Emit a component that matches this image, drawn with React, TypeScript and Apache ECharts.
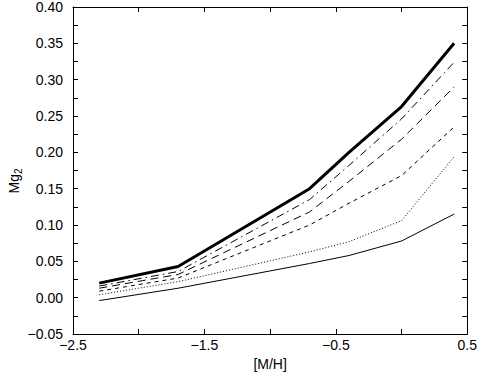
import React, { useEffect, useRef } from "react";
import * as echarts from "echarts";

const metallicity = [-2.3, -1.7, -0.7, -0.4, 0.0, 0.4];
const thickSolid = [0.02, 0.043, 0.15, 0.2, 0.263, 0.35];
const dashDot = [0.016, 0.036, 0.135, 0.182, 0.246, 0.324];
const longDash = [0.013, 0.032, 0.118, 0.16, 0.218, 0.29];
const shortDash = [0.009, 0.027, 0.1, 0.13, 0.168, 0.235];
const dotted = [0.004, 0.022, 0.063, 0.077, 0.106, 0.194];
const thinSolid = [-0.004, 0.013, 0.047, 0.058, 0.078, 0.115];

const xLabels = [-2.5, -1.5, -0.5, 0.5];

const FONT = "'Liberation Sans', Arial, Helvetica, sans-serif";

function pairs(ys: number[]) {
  return metallicity.map((x, i) => [x, ys[i]]);
}

export default function App() {
  const ref = useRef<HTMLDivElement>(null);
  useEffect(() => {
    if (!ref.current) return;
    const chart = echarts.init(ref.current, null, { renderer: "svg" });
    const minus = (s: string) => s.replace("-", "\u2212");
    const axisLine = { show: true, onZero: false, lineStyle: { color: "#000", width: 1 } };
    const tick = { show: true, inside: true, length: 5, lineStyle: { color: "#000", width: 1 } };
    const mk = (name: string, data: number[], width: number, type: any) => ({
      name,
      type: "line",
      data: pairs(data),
      symbol: "none",
      xAxisIndex: 0,
      yAxisIndex: 0,
      lineStyle: { color: "#000", width, type },
    });
    chart.setOption({
      animation: false,
      backgroundColor: "#fff",
      grid: { left: 73, right: 10, top: 5, bottom: 39 },
      xAxis: [
        {
          type: "value",
          min: -2.5,
          max: 0.5,
          interval: 0.5,
          position: "bottom",
          axisLine,
          axisTick: tick,
          splitLine: { show: false },
          axisLabel: {
            color: "#000",
            fontFamily: FONT,
            fontSize: 14,
            margin: 4,
            formatter: (v: number) =>
              xLabels.some((l) => Math.abs(l - v) < 1e-6) ? minus(v.toFixed(1)) : "",
          },
          name: "[M/H]",
          nameLocation: "middle",
          nameGap: 23,
          nameTextStyle: { color: "#000", fontFamily: FONT, fontSize: 14 },
        },
        {
          type: "value",
          min: -2.5,
          max: 0.5,
          interval: 0.5,
          position: "top",
          axisLine,
          axisTick: tick,
          splitLine: { show: false },
          axisLabel: { show: false },
        },
      ],
      yAxis: [
        {
          type: "value",
          min: -0.05,
          max: 0.4,
          interval: 0.025,
          position: "left",
          axisLine,
          axisTick: tick,
          splitLine: { show: false },
          axisLabel: {
            color: "#000",
            fontFamily: FONT,
            fontSize: 14,
            margin: 10,
            formatter: (v: number) =>
              Math.round(v * 1000) % 50 === 0 ? minus(v.toFixed(2)) : "",
          },
        },
        {
          type: "value",
          min: -0.05,
          max: 0.4,
          interval: 0.025,
          position: "right",
          axisLine,
          axisTick: tick,
          splitLine: { show: false },
          axisLabel: { show: false },
        },
      ],
      graphic: [
        {
          type: "group",
          x: 14,
          y: 181,
          rotation: Math.PI / 2,
          children: [
            {
              type: "text",
              x: -12.5,
              y: 0,
              style: {
                text: "Mg",
                align: "left",
                verticalAlign: "middle",
                fill: "#000",
                fontSize: 14,
                fontFamily: FONT,
              },
            },
            {
              type: "text",
              x: 7,
              y: 4,
              style: {
                text: "2",
                align: "left",
                verticalAlign: "middle",
                fill: "#000",
                fontSize: 10,
                fontFamily: FONT,
              },
            },
          ],
        },
      ],
      series: [
        mk("thin", thinSolid, 1, "solid"),
        mk("dotted", dotted, 1, [1, 2]),
        mk("shortDash", shortDash, 1, [4, 4]),
        mk("longDash", longDash, 1, [8, 5]),
        mk("dashDot", dashDot, 1, [8, 4, 1.5, 4]),
        mk("thick", thickSolid, 3, "solid"),
      ],
    });
    return () => chart.dispose();
  }, []);
  return (
    <div
      ref={ref}
      style={{ position: "fixed", left: 0, top: 0, width: 480, height: 376, background: "#fff" }}
    />
  );
}
